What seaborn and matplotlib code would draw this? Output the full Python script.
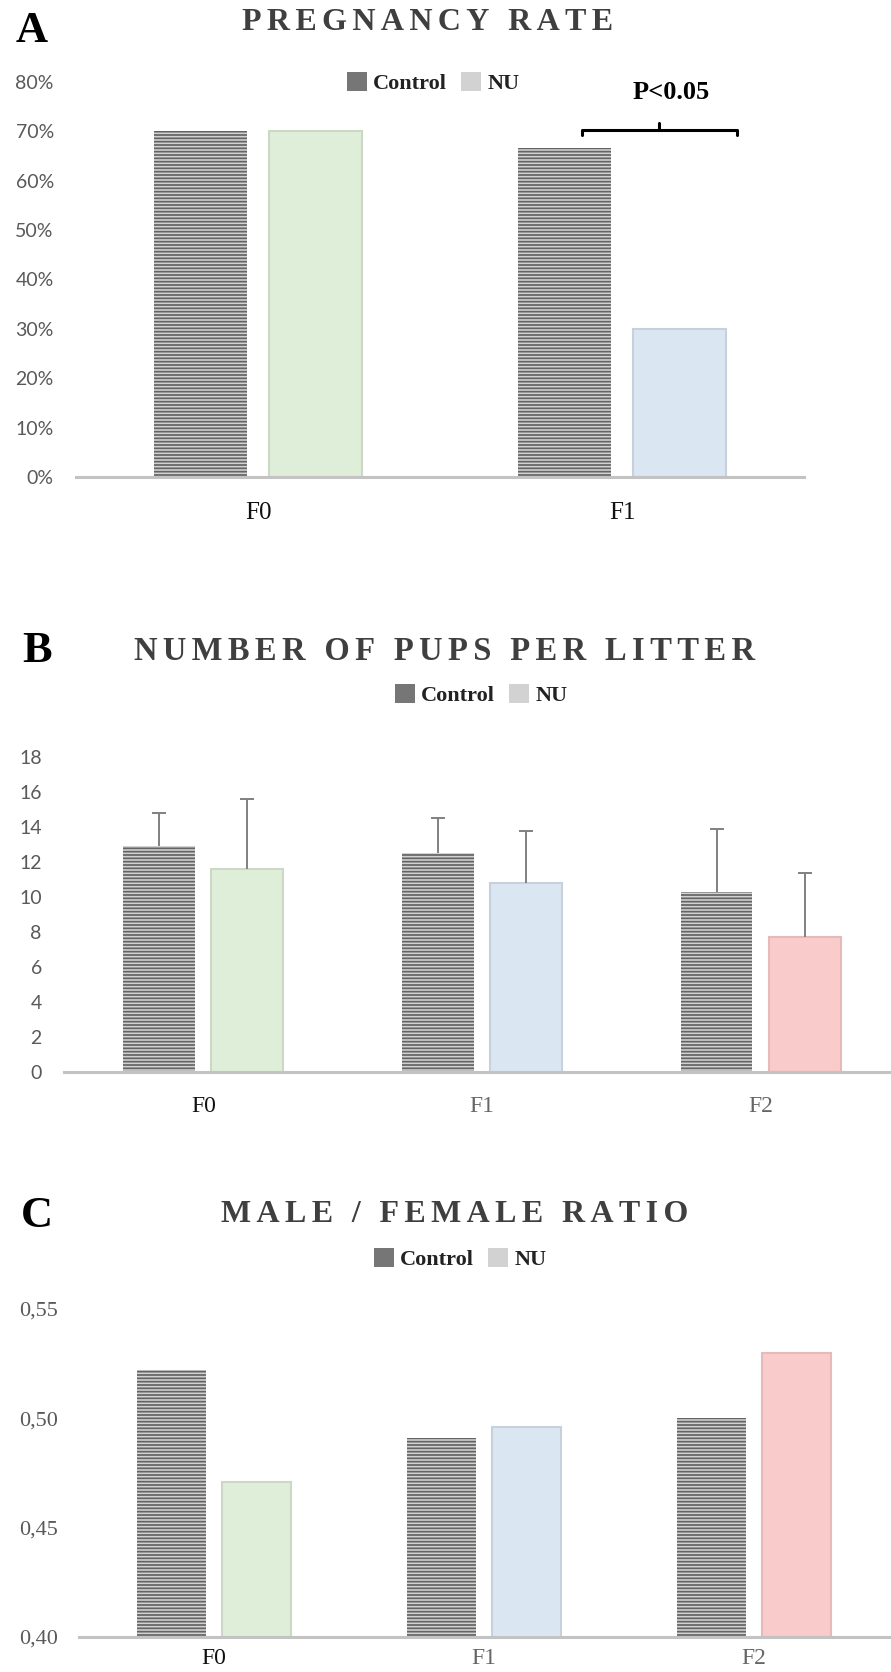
import numpy as np
import pandas as pd
import matplotlib
matplotlib.use('Agg')
import matplotlib.pyplot as plt
import seaborn as sns
from matplotlib.patches import Patch
from matplotlib.ticker import PercentFormatter, FuncFormatter

# data
gens_a = ['F0', 'F1']
preg_control = [0.70, 0.667]
preg_nu = [0.70, 0.30]

gens = ['F0', 'F1', 'F2']
pups_control = [12.9, 12.5, 10.3]
pups_control_err = [1.9, 2.0, 3.6]
pups_nu = [11.6, 10.8, 7.7]
pups_nu_err = [4.0, 3.0, 3.7]

ratio_control = [0.522, 0.491, 0.500]
ratio_nu = [0.471, 0.496, 0.530]

groups = ['Control', 'NU']

# style
W, H = 891, 1672
CTRL_FACE = '#d2d2d2'
CTRL_HATCH = '#646464'
NU_FACES = ['#dfeed8', '#dbe6f3', '#f9cbcb']
NU_EDGES = ['#cbd8c5', '#c6d1dd', '#e4baba']
SERIF = 'Liberation Serif'
SANS = 'Lato'

sns.set_theme(style='white')
plt.rcParams['font.family'] = [SERIF, 'DejaVu Serif']
plt.rcParams['hatch.linewidth'] = 1.25


def px_axes(fig, left, right, top, bottom):
    return fig.add_axes([left / W, 1 - bottom / H, (right - left) / W, (bottom - top) / H])


def fig_text(fig, x, y, s, **kw):
    fig.text(x / W, 1 - y / H, s, ha='center', va='center', **kw)


def spaced(s):
    # letter-spaced title, as in the original (six-per-em space between glyphs)
    return '\u2006'.join(s)


def draw_bars(ax, cats, ctrl, nu):
    df = pd.DataFrame({
        'gen': cats * 2,
        'group': ['Control'] * len(cats) + ['NU'] * len(cats),
        'value': list(ctrl) + list(nu),
    })
    sns.barplot(data=df, x='gen', y='value', hue='group', order=cats, hue_order=groups,
                palette={'Control': CTRL_FACE, 'NU': '#dddddd'}, width=0.632, gap=0.184,
                errorbar=None, legend=False, ax=ax)
    for bar in ax.containers[0]:
        bar.set_facecolor(CTRL_FACE)
        bar.set_hatch('-----')
        bar.set_edgecolor(CTRL_HATCH)
        bar.set_linewidth(0)
    for bar, fc, ec in zip(ax.containers[1], NU_FACES, NU_EDGES):
        bar.set_facecolor(fc)
        bar.set_edgecolor(ec)
        bar.set_linewidth(1.5)
    sns.despine(ax=ax, left=True)
    ax.spines['bottom'].set_color('#c3c3c3')
    ax.spines['bottom'].set_linewidth(2.2)
    ax.tick_params(length=0)
    ax.set_xlabel('')
    ax.set_ylabel('')


def upper_errors(ax, container, errs):
    for bar, e in zip(container, errs):
        x = bar.get_x() + bar.get_width() / 2
        y = bar.get_height()
        ax.vlines(x, y, y + e, color='#808080', lw=1.4)
        ax.plot([x], [y + e], marker='_', ms=10, mew=1.4, color='#808080')


def legend(fig, cx, cy):
    handles = [Patch(facecolor='#767676', edgecolor='none'), Patch(facecolor='#d2d2d2', edgecolor='none')]
    fig.legend(handles, groups, loc='center', bbox_to_anchor=(cx / W, 1 - cy / H), ncol=2,
               frameon=False, prop={'family': SERIF, 'weight': 'bold', 'size': 16},
               handlelength=0.9, handleheight=0.9, handletextpad=0.3, columnspacing=0.6,
               borderpad=0, borderaxespad=0, labelcolor='#222222')


fig = plt.figure(figsize=(W / 100, H / 100), dpi=100)

# ---- A: pregnancy rate
ax_a = px_axes(fig, 76, 804, 82, 477)
draw_bars(ax_a, gens_a, preg_control, preg_nu)
ax_a.set_xlim(-0.5, 1.5)
ax_a.set_ylim(0, 0.8)
ax_a.set_yticks(np.arange(0, 0.81, 0.1))
ax_a.yaxis.set_major_formatter(PercentFormatter(1.0, decimals=0))
for lab in ax_a.get_yticklabels():
    lab.set_fontfamily(SANS)
    lab.set_fontsize(14)
    lab.set_color('#595959')
ax_a.tick_params(axis='y', pad=16)
ax_a.tick_params(axis='x', pad=18, labelsize=18, labelcolor='#111111')

# significance bracket
bx = [0.889, 0.889, 1.317, 1.317]
by = [0.692, 0.702, 0.702, 0.692]
ax_a.plot(bx, by, color='black', lw=2.2, clip_on=False, solid_capstyle='round', solid_joinstyle='round')
ax_a.plot([1.103, 1.103], [0.702, 0.717], color='black', lw=2.2, clip_on=False)
ax_a.text(1.134, 0.779, 'P<0.05', ha='center', va='center', fontsize=19, fontweight='bold',
          color='black', clip_on=False)

fig_text(fig, 32, 31, 'A', fontsize=32, fontweight='bold', color='black')
fig_text(fig, 428, 23, spaced('PREGNANCY RATE'), fontsize=23, fontweight='bold', color='#3f3f3f')
legend(fig, 433, 83)

# ---- B: pups per litter
ax_b = px_axes(fig, 64, 891, 757, 1072)
draw_bars(ax_b, gens, pups_control, pups_nu)
upper_errors(ax_b, ax_b.containers[0], pups_control_err)
upper_errors(ax_b, ax_b.containers[1], pups_nu_err)
ax_b.set_xlim(-0.5, 2.468)
ax_b.set_ylim(0, 18)
ax_b.set_yticks(range(0, 19, 2))
for lab in ax_b.get_yticklabels():
    lab.set_fontfamily(SANS)
    lab.set_fontsize(14)
    lab.set_color('#595959')
ax_b.tick_params(axis='y', pad=16)
ax_b.tick_params(axis='x', pad=17, labelsize=17)
for lab, col in zip(ax_b.get_xticklabels(), ['#111111', '#666666', '#666666']):
    lab.set_color(col)

fig_text(fig, 37, 651, 'B', fontsize=32, fontweight='bold', color='black')
fig_text(fig, 445, 652, spaced('NUMBER OF PUPS PER LITTER'), fontsize=23.5, fontweight='bold', color='#3f3f3f')
legend(fig, 481, 695)

# ---- C: male / female ratio
ax_c = px_axes(fig, 79, 889, 1309, 1637)
draw_bars(ax_c, gens, ratio_control, ratio_nu)
ax_c.set_xlim(-0.5, 2.5)
ax_c.set_ylim(0.40, 0.55)
ax_c.set_yticks([0.40, 0.45, 0.50, 0.55])
ax_c.yaxis.set_major_formatter(FuncFormatter(lambda v, p: f'{v:.2f}'.replace('.', ',')))
ax_c.tick_params(axis='y', pad=15, labelsize=16, labelcolor='#595959')
ax_c.tick_params(axis='x', pad=8, labelsize=17)
for lab, col in zip(ax_c.get_xticklabels(), ['#111111', '#666666', '#666666']):
    lab.set_color(col)

fig_text(fig, 37, 1216, 'C', fontsize=32, fontweight='bold', color='black')
fig_text(fig, 455, 1214, spaced('MALE / FEMALE RATIO'), fontsize=23, fontweight='bold', color='#3f3f3f')
legend(fig, 460, 1259)

fig.savefig('out.png', dpi=100)
